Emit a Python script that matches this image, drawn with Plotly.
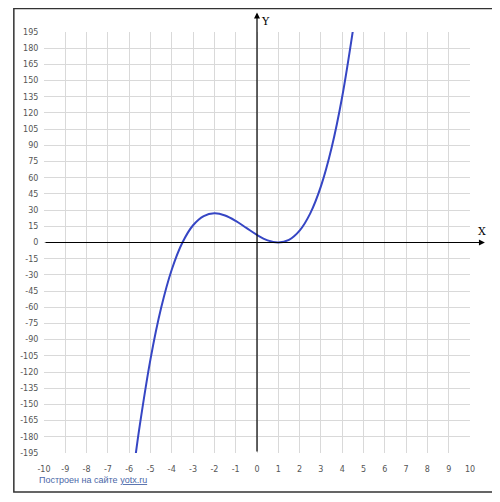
import plotly.graph_objects as go

# points
x_pts = [-5.7, -5.5, -5.0, -4.5, -4.0, -3.5, -3.0, -2.5, -2.0, -1.5, -1.0, -0.5,
         0.0, 0.5, 1.0, 1.5, 2.0, 2.5, 3.0, 3.5, 4.0, 4.5]
y_pts = [-197, -169, -108, -60.5, -25, 0, 16, 24.5, 27, 25, 20, 13.5,
         7, 2, 0, 2.5, 11, 27, 52, 87.5, 135, 196]

x_ticks = list(range(-10, 11))
y_ticks = list(range(-195, 196, 15))

fig = go.Figure()

fig.add_trace(go.Scatter(
    x=x_pts, y=y_pts,
    mode="lines",
    line=dict(color="#3646c4", width=2, shape="spline", smoothing=1.0),
    hoverinfo="skip",
    showlegend=False,
    cliponaxis=False,
))

# axes with arrows
fig.add_annotation(x=10.7, y=0, ax=-10, ay=0, xref="x", yref="y",
                   axref="x", ayref="y", showarrow=True, arrowhead=2,
                   arrowsize=1, arrowwidth=1.2, arrowcolor="#000000", text="")
fig.add_annotation(x=0, y=213, ax=0, ay=-195, xref="x", yref="y",
                   axref="x", ayref="y", showarrow=True, arrowhead=2,
                   arrowsize=1, arrowwidth=1.2, arrowcolor="#000000", text="")
fig.add_annotation(xref="paper", yref="paper", x=1.042, y=0.527,
                   text="X", showarrow=False,
                   font=dict(family="DejaVu Serif", size=11, color="#000000"))
fig.add_annotation(xref="paper", yref="paper", x=0.520, y=1.045,
                   text="Y", showarrow=False,
                   font=dict(family="DejaVu Serif", size=11, color="#000000"))

# caption
fig.add_annotation(xref="paper", yref="paper", x=-0.017, y=-0.064,
                   xanchor="left", yanchor="middle", showarrow=False,
                   text="Построен на сайте <u>yotx.ru</u>",
                   font=dict(family="Liberation Sans", size=9, color="#4b67a8"))

# outer frame
fig.add_shape(type="rect", xref="paper", yref="paper",
              x0=-0.0708, x1=1.0575, y0=-0.0926, y1=1.0558,
              line=dict(color="#333333", width=1.5))

fig.update_xaxes(
    range=[-10, 10], tickvals=x_ticks, ticktext=[str(v) for v in x_ticks],
    showgrid=True, gridcolor="#d9d9d9", gridwidth=1, zeroline=False,
    showline=False, ticks="outside", ticklen=8, tickcolor="rgba(0,0,0,0)",
    tickfont=dict(family="DejaVu Sans", size=8, color="#555555"),
)
fig.update_yaxes(
    range=[-195, 195], tickvals=y_ticks, ticktext=[str(v) for v in y_ticks],
    showgrid=True, gridcolor="#d9d9d9", gridwidth=1, zeroline=False,
    showline=False, ticks="outside", ticklen=3, tickcolor="rgba(0,0,0,0)",
    tickfont=dict(family="DejaVu Sans", size=8, color="#555555"),
)

fig.update_layout(
    width=492, height=494,
    margin=dict(l=31, r=30, t=24, b=49),
    plot_bgcolor="#ffffff", paper_bgcolor="#ffffff",
)

fig.write_html("out.html")
